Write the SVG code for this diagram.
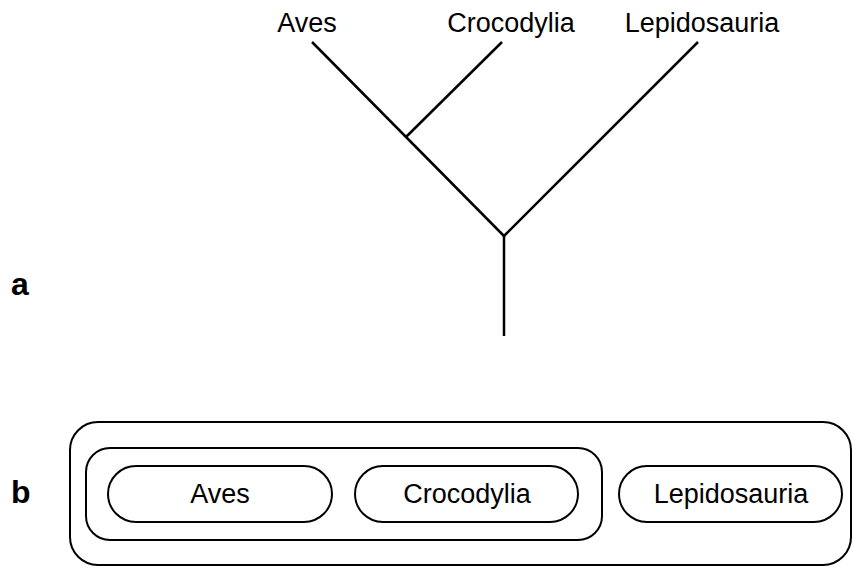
<svg xmlns="http://www.w3.org/2000/svg" width="853" height="567" viewBox="0 0 853 567">
<style>
.ln{stroke:#000;stroke-width:2.5;fill:none;stroke-linecap:butt}
.bx{stroke:#000;stroke-width:2;fill:none}
.t{font-family:"Liberation Sans",Arial,sans-serif;font-size:27px;fill:#000;text-anchor:middle}
.lb{font-family:"Liberation Sans",Arial,sans-serif;font-size:32px;font-weight:bold;fill:#000}
</style>
<rect width="853" height="567" fill="#fff"/>
<g id="labels">
<text class="lb" x="11" y="295">a</text>
<text class="lb" x="11" y="503">b</text>
</g>
<g id="tree-labels">
<text id="t-aves" class="t" x="307" y="32">Aves</text>
<text id="t-croc" class="t" x="511" y="32">Crocodylia</text>
<text id="t-lepi" class="t" x="702" y="32">Lepidosauria</text>
</g>
<g id="connectors">
<line class="ln" x1="312" y1="42" x2="504" y2="236"/>
<line class="ln" x1="502" y1="42" x2="406" y2="137"/>
<line class="ln" x1="698" y1="42" x2="504" y2="236"/>
<line class="ln" x1="504" y1="236" x2="504" y2="336"/>
</g>
<g id="outer-set">
<rect class="bx" x="70" y="422" width="781" height="143" rx="28"/>
</g>
<g id="archosauria-set">
<rect class="bx" x="86" y="448" width="516" height="92" rx="24"/>
</g>
<g id="n-aves">
<rect class="bx" x="108" y="466" width="224" height="56" rx="28"/>
<text class="t" x="220" y="503">Aves</text>
</g>
<g id="n-croc">
<rect class="bx" x="355" y="466" width="223" height="56" rx="28"/>
<text class="t" x="467" y="503">Crocodylia</text>
</g>
<g id="n-lepi">
<rect class="bx" x="619" y="466" width="223" height="56" rx="28"/>
<text class="t" x="731" y="503">Lepidosauria</text>
</g>
</svg>
